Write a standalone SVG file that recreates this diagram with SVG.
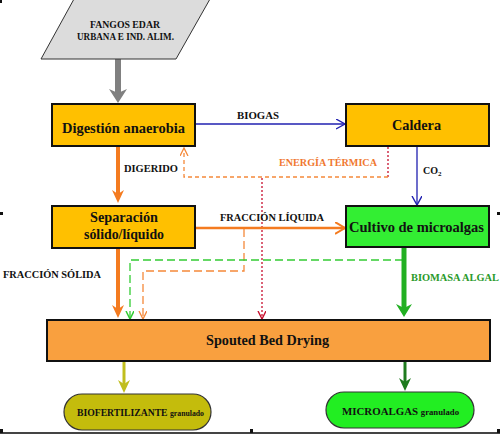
<svg xmlns="http://www.w3.org/2000/svg" width="500" height="438" viewBox="0 0 500 438">
<style>
text{font-family:'Liberation Serif','DejaVu Serif','Times New Roman',serif;font-weight:bold;fill:#111}
.t14{font-size:14px}
.t10{font-size:10px}
.t8{font-size:8px}
.box{fill:#FFC000;stroke:#111;stroke-width:2}
.thin{fill:none;stroke-width:1.3}
</style>
<defs>
<marker id="hGray" markerUnits="userSpaceOnUse" markerWidth="16" markerHeight="20" refX="4" refY="9" orient="auto" viewBox="0 0 16 20"><path d="M0,0 L14,9 L0,18 L4,9 z" fill="#808080"/></marker>
<marker id="hOrange" markerUnits="userSpaceOnUse" markerWidth="16" markerHeight="14" refX="4" refY="6" orient="auto" viewBox="0 0 16 14"><path d="M0,0 L13,6 L0,12 L4,6 z" fill="#F47B20"/></marker>
<marker id="hGreen" markerUnits="userSpaceOnUse" markerWidth="16" markerHeight="18" refX="4" refY="8" orient="auto" viewBox="0 0 16 18"><path d="M0,0 L13,8 L0,16 L4,8 z" fill="#22B022"/></marker>
<marker id="hOlive" markerUnits="userSpaceOnUse" markerWidth="16" markerHeight="14" refX="4" refY="6" orient="auto" viewBox="0 0 16 14"><path d="M0,0 L13,6 L0,12 L4,6 z" fill="#C0BE1E"/></marker>
<marker id="hDkGreen" markerUnits="userSpaceOnUse" markerWidth="16" markerHeight="14" refX="4" refY="6" orient="auto" viewBox="0 0 16 14"><path d="M0,0 L13,6 L0,12 L4,6 z" fill="#1E7B1E"/></marker>
<marker id="vBlue" markerUnits="userSpaceOnUse" markerWidth="12" markerHeight="12" refX="9" refY="5" orient="auto" viewBox="0 0 12 12"><path d="M0,0 L9,5 L0,10" fill="none" stroke="#2020B0" stroke-width="1.4"/></marker>
<marker id="vOrange" markerUnits="userSpaceOnUse" markerWidth="13" markerHeight="14" refX="10" refY="6" orient="auto" viewBox="0 0 13 14"><path d="M0,0 L10,6 L0,12" fill="none" stroke="#F47B20" stroke-width="2"/></marker>
<marker id="vLtOrange" markerUnits="userSpaceOnUse" markerWidth="12" markerHeight="12" refX="8" refY="4" orient="auto" viewBox="0 0 12 12"><path d="M0,0 L8,4 L0,8" fill="none" stroke="#F5893A" stroke-width="1.3"/></marker>
<marker id="vGreen" markerUnits="userSpaceOnUse" markerWidth="12" markerHeight="12" refX="8" refY="4" orient="auto" viewBox="0 0 12 12"><path d="M0,0 L8,4 L0,8" fill="none" stroke="#33CC33" stroke-width="1.5"/></marker>
<marker id="vRed" markerUnits="userSpaceOnUse" markerWidth="12" markerHeight="12" refX="8" refY="4" orient="auto" viewBox="0 0 12 12"><path d="M0,0 L8,4 L0,8" fill="none" stroke="#C8102E" stroke-width="1.4"/></marker>
</defs>
<rect width="500" height="438" fill="#fff"/>
<g id="frame">
<line x1="0" y1="433" x2="500" y2="433" stroke="#444" stroke-width="2"/>
<rect x="0" y="429" width="3" height="4" fill="#111"/>
<rect x="250" y="429" width="3" height="4" fill="#111"/>
<rect x="497" y="429" width="3" height="4" fill="#111"/>
<rect x="0" y="212" width="3" height="3" fill="#111"/>
<rect x="497" y="212" width="3" height="3" fill="#111"/>
<rect x="0" y="0" width="2" height="3" fill="#111"/>
</g>
<g id="connectors">
<line x1="118" y1="59" x2="118" y2="93" stroke="#808080" stroke-width="6" marker-end="url(#hGray)"/>
<line x1="195" y1="124" x2="345" y2="124" class="thin" stroke="#2020B0" marker-end="url(#vBlue)"/>
<text x="237" y="119" class="t10" textLength="42" lengthAdjust="spacingAndGlyphs">BIOGAS</text>
<line x1="417" y1="147" x2="417" y2="205" class="thin" stroke="#2020B0" marker-end="url(#vBlue)"/>
<text x="423" y="174" class="t10">CO<tspan font-size="7" dy="2">2</tspan></text>
<line x1="118" y1="147" x2="118" y2="194" stroke="#F47B20" stroke-width="4" marker-end="url(#hOrange)"/>
<text x="124" y="172" class="t10" textLength="54" lengthAdjust="spacingAndGlyphs">DIGERIDO</text>
<path d="M388,147 V177" class="thin" stroke="#C8102E" stroke-dasharray="2,2"/>
<path d="M388,177 H184 V148" class="thin" stroke="#F5893A" stroke-dasharray="4,3" marker-end="url(#vLtOrange)"/>
<path d="M262,178 V319" class="thin" stroke="#C8102E" stroke-dasharray="2,2" marker-end="url(#vRed)"/>
<text x="279" y="166" class="t10" textLength="98" lengthAdjust="spacingAndGlyphs" style="fill:#F07830">ENERGÍA TÉRMICA</text>
<line x1="196" y1="228" x2="345" y2="228" stroke="#F47B20" stroke-width="2.5" marker-end="url(#vOrange)"/>
<text x="220" y="221" class="t10" textLength="104" lengthAdjust="spacingAndGlyphs">FRACCIÓN LÍQUIDA</text>
<path d="M244,229 V271 H143 V319" class="thin" stroke="#F5893A" stroke-dasharray="8,4" marker-end="url(#vLtOrange)"/>
<path d="M403,260 H130 V319" class="thin" stroke="#33CC33" stroke-dasharray="8,4" marker-end="url(#vGreen)"/>
<line x1="118" y1="249" x2="118" y2="309" stroke="#F47B20" stroke-width="4" marker-end="url(#hOrange)"/>
<text x="3" y="278" class="t10" textLength="98" lengthAdjust="spacingAndGlyphs">FRACCIÓN SÓLIDA</text>
<line x1="404" y1="248" x2="404" y2="308" stroke="#22B022" stroke-width="5" marker-end="url(#hGreen)"/>
<text x="411" y="281" class="t10" textLength="88" lengthAdjust="spacingAndGlyphs" style="fill:#2A9A2A">BIOMASA ALGAL</text>
<line x1="124" y1="362" x2="124" y2="384" stroke="#C0BE1E" stroke-width="3" marker-end="url(#hOlive)"/>
<line x1="405" y1="362" x2="405" y2="382" stroke="#1E7B1E" stroke-width="3" marker-end="url(#hDkGreen)"/>
</g>
<g id="fangos">
<polygon points="74,-1 210,-1 176,59 41,59" fill="#DCDCDC" stroke="#333" stroke-width="1"/>
<text x="90" y="28" class="t10" textLength="70" lengthAdjust="spacingAndGlyphs">FANGOS EDAR</text>
<text x="77" y="40" class="t10" textLength="97" lengthAdjust="spacingAndGlyphs">URBANA E IND. ALIM.</text>
</g>
<g id="digestion">
<rect x="52" y="104" width="143" height="42" class="box"/>
<text x="62" y="133" class="t14" textLength="123" lengthAdjust="spacingAndGlyphs">Digestión anaerobia</text>
</g>
<g id="caldera">
<rect x="346" y="104" width="143" height="42" class="box"/>
<text x="392" y="130" class="t14" textLength="49" lengthAdjust="spacingAndGlyphs">Caldera</text>
</g>
<g id="separacion">
<rect x="52" y="206" width="143" height="42" class="box"/>
<text x="90" y="222" class="t14" textLength="68" lengthAdjust="spacingAndGlyphs">Separación</text>
<text x="84" y="239" class="t14" textLength="80" lengthAdjust="spacingAndGlyphs">sólido/líquido</text>
</g>
<g id="cultivo">
<rect x="346" y="206" width="143" height="41" fill="#33EE33" stroke="#111" stroke-width="2"/>
<text x="349" y="232" class="t14" textLength="135" lengthAdjust="spacingAndGlyphs">Cultivo de microalgas</text>
</g>
<g id="spouted">
<rect x="47" y="320" width="443" height="41" fill="#F9A03F" stroke="#111" stroke-width="2"/>
<text x="206" y="345" class="t14" textLength="123" lengthAdjust="spacingAndGlyphs">Spouted Bed Drying</text>
</g>
<g id="biofertilizante">
<rect x="64" y="394" width="147" height="36" rx="18" fill="#C4BC0C" stroke="#333" stroke-width="1.2"/>
<text x="77" y="416" class="t10" textLength="127" lengthAdjust="spacingAndGlyphs">BIOFERTILIZANTE <tspan class="t8">granulado</tspan></text>
</g>
<g id="microalgas">
<rect x="326" y="392" width="148" height="36" rx="18" fill="#22EE22" stroke="#333" stroke-width="1.2"/>
<text x="342" y="415" class="t10" textLength="117" lengthAdjust="spacingAndGlyphs">MICROALGAS <tspan class="t8">granulado</tspan></text>
</g>
</svg>
